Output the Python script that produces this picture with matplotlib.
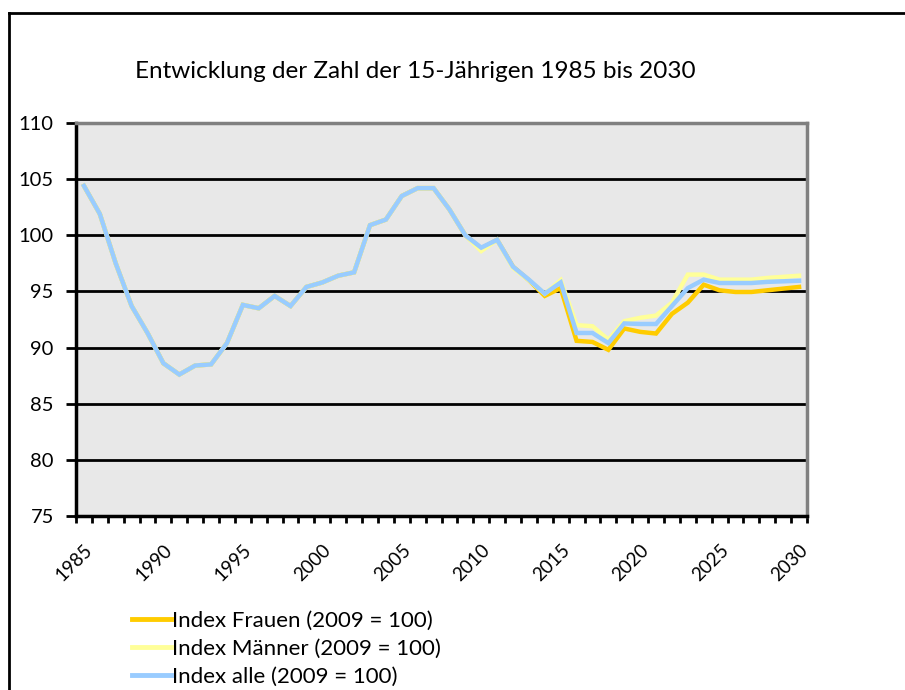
import matplotlib
matplotlib.use("Agg")
import matplotlib.pyplot as plt
from matplotlib.lines import Line2D

plt.rcParams['font.family'] = ['Lato', 'DejaVu Sans']

years = list(range(1985, 2031))

# 1985-2008 all three series coincide
common = [104.4, 101.9, 97.5, 93.7, 91.3, 88.6, 87.6, 88.4, 88.5, 90.4,
          93.8, 93.5, 94.6, 93.7, 95.4, 95.8, 96.4, 96.7, 100.9, 101.4,
          103.5, 104.2, 104.2, 102.3]

frauen = common + [100.0, 98.8, 99.6, 97.2, 96.0, 94.6, 95.3, 90.6, 90.5, 89.8,
                   91.7, 91.4, 91.25, 93.0, 94.0, 95.6, 95.1, 94.95, 94.95, 95.1,
                   95.25, 95.4]
maenner = common + [100.0, 98.6, 99.6, 97.1, 96.0, 94.8, 96.0, 92.0, 91.9, 90.7,
                    92.35, 92.65, 92.85, 94.0, 96.5, 96.5, 96.05, 96.05, 96.05, 96.2,
                    96.3, 96.4]
alle = common + [100.0, 98.9, 99.6, 97.2, 96.05, 94.8, 95.8, 91.3, 91.3, 90.4,
                 92.15, 92.1, 92.1, 93.7, 95.3, 96.05, 95.75, 95.75, 95.75, 95.85,
                 95.9, 95.95]

labels = ['Index Frauen (2009 = 100)', 'Index Männer (2009 = 100)', 'Index alle (2009 = 100)']
colors = ['#FFCC00', '#FFFF99', '#99CCFF']

fig = plt.figure(figsize=(9.05, 6.9), dpi=100)
ax = fig.add_axes([76 / 905, 1 - 516 / 690, (807 - 76) / 905, (516 - 123) / 690])
ax.set_facecolor('#E8E8E8')

x = list(range(len(years)))
for series, lab, col in zip([frauen, maenner, alle], labels, colors):
    ax.plot(x, series, color=col, lw=3.2, label=lab, solid_joinstyle='miter')

ax.set_xlim(-0.5, len(years) - 0.5)
ax.set_ylim(75, 110)
ax.set_yticks(range(75, 111, 5))
ax.yaxis.grid(True, color='black', lw=2)
ax.set_axisbelow(True)

# category boundaries as tick marks, labels every 5 years
ax.set_xticks([i - 0.5 for i in range(len(years) + 1)], minor=False)
ax.set_xticklabels([])
ax.set_xticks([i for i in range(0, len(years), 5)], minor=True)
ax.set_xticklabels([str(years[i]) for i in range(0, len(years), 5)], minor=True,
                   rotation=45, ha='right', va='top', rotation_mode='anchor', fontsize=13.5)
ax.tick_params(axis='x', which='major', direction='out', length=5, width=2, color='black')
ax.tick_params(axis='x', which='minor', length=0, pad=18)
ax.tick_params(axis='y', direction='out', length=7, width=2, labelsize=14.5, pad=9)

ax.spines['left'].set_linewidth(2.5)
ax.spines['bottom'].set_linewidth(2.5)
ax.spines['top'].set_color('#808080')
ax.spines['top'].set_linewidth(2.5)
ax.spines['right'].set_color('#808080')
ax.spines['right'].set_linewidth(2.5)

fig.text(415 / 905, 1 - 72 / 690, 'Entwicklung der Zahl der 15-Jährigen 1985 bis 2030',
         ha='center', va='center', fontsize=17.5)

leg = fig.legend(loc='upper left', bbox_to_anchor=(121 / 905, 1 - 600 / 690),
                 frameon=False, fontsize=16, handlelength=1.75, handletextpad=0.05,
                 labelspacing=0.36, borderpad=0)
for h in leg.get_lines():
    h.set_linewidth(3.5)

# chart area border
fig.add_artist(Line2D([9 / 905, 9 / 905], [0, 1 - 13 / 690], transform=fig.transFigure,
                      color='black', lw=2))
fig.add_artist(Line2D([9 / 905, 1], [1 - 13 / 690, 1 - 13 / 690], transform=fig.transFigure,
                      color='black', lw=2))

fig.savefig('out.png', dpi=100)
